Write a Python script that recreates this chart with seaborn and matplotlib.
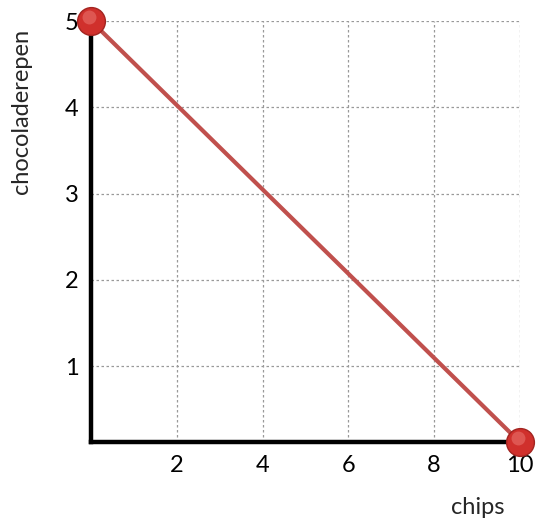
import numpy as np
import pandas as pd
import matplotlib.pyplot as plt
import matplotlib.transforms as mtransforms
import seaborn as sns

sns.set_style('white')
plt.rcParams['font.family'] = ['Lato', 'DejaVu Sans']

# data
chips = [0, 10]
repen = [5, 0.12]
xticks = [2, 4, 6, 8, 10]
yticks = [1, 2, 3, 4, 5]

df = pd.DataFrame({'chips': chips, 'chocoladerepen': repen})

fig = plt.figure(figsize=(5.36, 5.19), dpi=100)
ax = fig.add_axes([0.170, 0.148, 0.800, 0.8115])

sns.lineplot(data=df, x='chips', y='chocoladerepen', ax=ax,
             color='#c0504d', linewidth=3, zorder=3)

# spheres at the ends
ax.plot(df['chips'], df['chocoladerepen'], 'o', ms=20, mfc='#d0302c',
        mec='#a32420', mew=1, clip_on=False, zorder=4)
hl = ax.transData + mtransforms.ScaledTranslation(-1.5/72, 3/72, fig.dpi_scale_trans)
ax.plot(df['chips'], df['chocoladerepen'], 'o', ms=10, mfc='#e8706b',
        mec='none', alpha=0.6, transform=hl, clip_on=False, zorder=5)

ax.set_xlim(0, 10)
ax.set_ylim(0.12, 5)
ax.set_xticks(xticks)
ax.set_yticks(yticks)
ax.grid(True, color='#999999', linestyle=(0, (2, 2)), linewidth=0.9)
ax.tick_params(length=0, labelsize=17, colors='black')
ax.tick_params(axis='x', pad=9)
ax.tick_params(axis='y', pad=9)

for s in ['top', 'right']:
    ax.spines[s].set_visible(False)
for s in ['left', 'bottom']:
    ax.spines[s].set_linewidth(3.2)
    ax.spines[s].set_color('black')
    ax.spines[s].set_zorder(2)

ax.set_xlabel('')
ax.set_ylabel('')
fig.text(0.892, 0.022, 'chips', fontsize=17, ha='center', va='center')
fig.text(0.040, 0.785, 'chocoladerepen', fontsize=17, rotation=90,
         ha='center', va='center')

fig.savefig('out.png', dpi=100)
